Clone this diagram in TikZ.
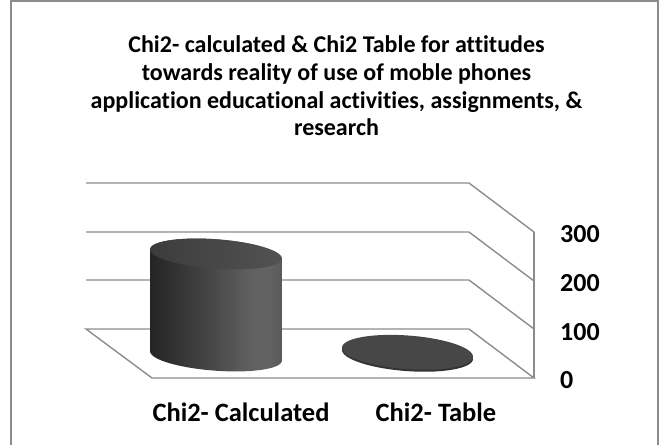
\documentclass[tikz,border=0pt]{standalone}
\usepackage{fontspec}
\setmainfont{Carlito}[Ligatures={NoCommon}]
\definecolor{gridc}{HTML}{8C8C8C}
\definecolor{cA}{HTML}{252525}
\definecolor{cB}{HTML}{2C2C2C}
\definecolor{cC}{HTML}{4A4A4A}
\definecolor{cD}{HTML}{626262}
\definecolor{cE}{HTML}{5A5A5A}
\definecolor{topL}{HTML}{3C3C3C}
\definecolor{topR}{HTML}{525252}
\definecolor{diskc}{HTML}{474747}
\definecolor{rimc}{HTML}{333333}
\pgfdeclarehorizontalshading{cylbody}{100bp}{color(0bp)=(cA); color(25bp)=(cA); color(30bp)=(cB); color(50bp)=(cC); color(64bp)=(cD); color(70bp)=(cD); color(75bp)=(cE); color(100bp)=(cE)}
\tikzset{
  gridline/.style={draw=gridc, line width=1.4pt, line join=miter},
  frameline/.style={draw=gridc, line width=1.3pt},
  titletext/.style={font=\bfseries\fontsize{24}{28}\selectfont, anchor=base, inner sep=0pt},
  cattext/.style={font=\bfseries\fontsize{26.5}{30}\selectfont, inner sep=0pt},
  axtext/.style={font=\bfseries\fontsize{26}{30}\selectfont, inner sep=0pt, anchor=west},
}
\begin{document}
\begin{tikzpicture}[x=1pt,y=-1pt]
\useasboundingbox (0,0) rectangle (665,445);
% outer frame
\coordinate (f1) at (11,446);
\coordinate (f2) at (11,1);
\coordinate (f3) at (658,1);
\coordinate (f4) at (658,446);
\draw[frameline] (f1) -- (f2) -- (f3) -- (f4);
% title
\node[titletext] (t1) at (336.5,52.5) {Chi2- calculated \& Chi2 Table for attitudes};
\node[titletext] (t2) at (336.5,80) {towards reality of use of moble phones};
\node[titletext] (t3) at (336.5,108) {application educational activities, assignments, \&};
\node[titletext] (t4) at (336.5,135.5) {research};
% back wall gridlines and side
\foreach \yy in {183,232,280} {
  \draw[gridline] (86,\yy) -- (469,\yy) -- (534,\yy+49);
}
\draw[gridline] (534,232) -- (534,378);
% floor
\draw[gridline] (86,329) -- (469,329) -- (534,378) -- (152,378) -- cycle;
% cylinder (Chi2- Calculated)
\def\ca{66}\def\cb{14.7}\def\th{4.2}
\shade[shading=cylbody]
  plot[domain=-0.94:179.06, samples=60, variable=\t]
    ({216+\ca*cos(\t)*cos(\th)-\cb*sin(\t)*sin(\th)},{356+\ca*cos(\t)*sin(\th)+\cb*sin(\t)*cos(\th)})
  -- plot[domain=179.06:359.06, samples=60, variable=\t]
    ({216+\ca*cos(\t)*cos(\th)-\cb*sin(\t)*sin(\th)},{254+\ca*cos(\t)*sin(\th)+\cb*sin(\t)*cos(\th)})
  -- cycle;
\shade[left color=topL, right color=topR]
  plot[domain=0:360, samples=90, variable=\t]
    ({216+\ca*cos(\t)*cos(\th)-\cb*sin(\t)*sin(\th)},{254+\ca*cos(\t)*sin(\th)+\cb*sin(\t)*cos(\th)}) -- cycle;
% disk (Chi2- Table)
\def\da{65.7}\def\db{16.8}
\fill[rimc]
  plot[domain=0:360, samples=90, variable=\t]
    ({407.5+\da*cos(\t)*cos(\th)-\db*sin(\t)*sin(\th)},{354.3+\da*cos(\t)*sin(\th)+\db*sin(\t)*cos(\th)}) -- cycle;
\fill[diskc]
  plot[domain=0:360, samples=90, variable=\t]
    ({407.5+\da*cos(\t)*cos(\th)-\db*sin(\t)*sin(\th)},{352.3+\da*cos(\t)*sin(\th)+\db*sin(\t)*cos(\th)}) -- cycle;
% axis labels
\node[axtext] (v300) at (560,234) {300};
\node[axtext] (v200) at (560,283) {200};
\node[axtext] (v100) at (560,332) {100};
\node[axtext] (v0) at (560,380) {0};
% category labels
\node[cattext] (c1) at (241,412) {Chi2- Calculated};
\node[cattext] (c2) at (436,412) {Chi2- Table};
\end{tikzpicture}
\end{document}
